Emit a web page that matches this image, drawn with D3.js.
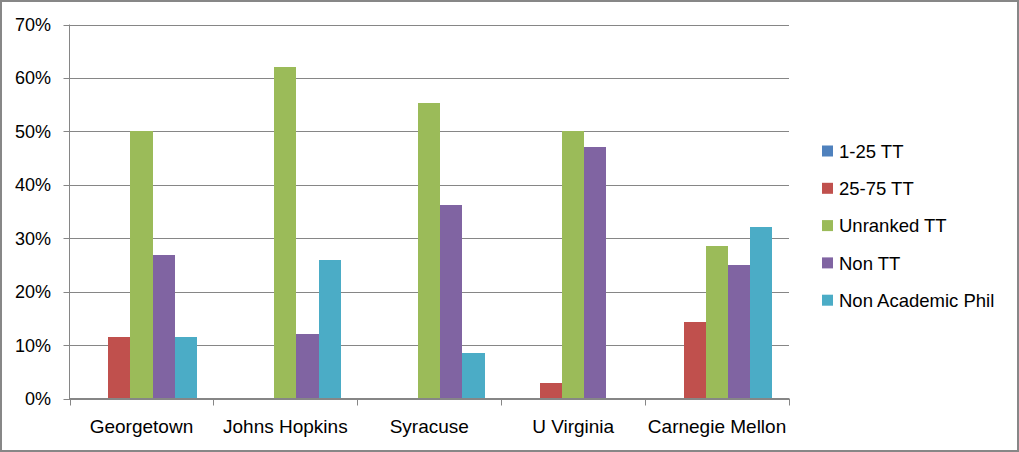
<!DOCTYPE html>
<html><head><meta charset="utf-8">
<script src="https://cdn.jsdelivr.net/npm/d3@7"></script>
<style>body{margin:0;background:#fff}svg{display:block}text{font-family:"Liberation Sans",Arial,sans-serif;fill:#000}</style>
</head><body><svg id="c" width="1019" height="452"></svg>
<script>
const categories = ["Georgetown","Johns Hopkins","Syracuse","U Virginia","Carnegie Mellon"];
const seriesNames = ["1-25 TT","25-75 TT","Unranked TT","Non TT","Non Academic Phil"];
const seriesColors = ["#4F81BD","#C0504D","#9BBB59","#8064A2","#4BACC6"];
const s1_25 = [0,0,0,0,0];
const s25_75 = [0.115,0,0,0.029,0.143];
const sUnranked = [0.50,0.62,0.553,0.50,0.286];
const sNonTT = [0.269,0.12,0.362,0.471,0.25];
const sNonAcad = [0.115,0.26,0.085,0,0.321];
const yTicks = [0,0.1,0.2,0.3,0.4,0.5,0.6,0.7];
const allSeries = [s1_25,s25_75,sUnranked,sNonTT,sNonAcad];

const svg = d3.select("#c");
svg.append("rect").attr("x",1).attr("y",1).attr("width",1017).attr("height",450)
  .attr("fill","#fff").attr("stroke","#878787").attr("stroke-width",2);

const L=69.5, R=789, T=24.5, B=398.5;
const x = d3.scaleBand().domain(categories).range([L,R]).paddingInner(0).paddingOuter(0);
const bw = x.bandwidth()/6.5;
const y = d3.scaleLinear().domain([0,0.7]).range([B,T]);
const grid="#868686";

// gridlines
svg.append("g").selectAll("line").data(yTicks).join("line")
  .attr("x1",L-6).attr("x2",R).attr("y1",d=>Math.round(y(d))+0.5).attr("y2",d=>Math.round(y(d))+0.5)
  .attr("stroke",grid).attr("stroke-width",1);

// bars
const g = svg.append("g");
categories.forEach((c,ci)=>{
  allSeries.forEach((s,si)=>{
    const v=s[ci]; if(!v) return;
    const x0 = Math.round(x(c)+0.75*bw+si*bw), x1=Math.round(x(c)+0.75*bw+(si+1)*bw);
    g.append("rect").attr("x",x0).attr("width",x1-x0)
      .attr("y",Math.round(y(v))).attr("height",Math.round(B)-Math.round(y(v)))
      .attr("fill",seriesColors[si]);
  });
});

// y axis
svg.append("line").attr("x1",L).attr("x2",L).attr("y1",T).attr("y2",B+1).attr("stroke",grid);
svg.append("g").selectAll("text").data(yTicks).join("text")
  .attr("x",51).attr("y",d=>y(d)).attr("dy","0.36em").attr("text-anchor","end")
  .attr("font-size",18).text(d3.format(".0%"));

// x axis
svg.append("line").attr("x1",L).attr("x2",R).attr("y1",B).attr("y2",B).attr("stroke",grid);
const bounds = categories.map(c=>x(c)).concat([R]);
svg.append("g").selectAll("line").data(bounds).join("line")
  .attr("x1",d=>Math.round(d)+0.5).attr("x2",d=>Math.round(d)+0.5).attr("y1",B).attr("y2",B+7).attr("stroke",grid);
svg.append("g").selectAll("text").data(categories).join("text")
  .attr("x",d=>x(d)+x.bandwidth()/2).attr("y",426).attr("dy","0.36em").attr("text-anchor","middle")
  .attr("font-size",19).text(d=>d);

// legend
const lg = svg.append("g");
seriesNames.forEach((n,i)=>{
  const cy = 151 + i*37.3;
  lg.append("rect").attr("x",822).attr("y",cy-5.5).attr("width",11).attr("height",11).attr("fill",seriesColors[i]);
  lg.append("text").attr("x",839).attr("y",cy).attr("dy","0.36em").attr("font-size",18.5).text(n);
});
</script></body></html>
